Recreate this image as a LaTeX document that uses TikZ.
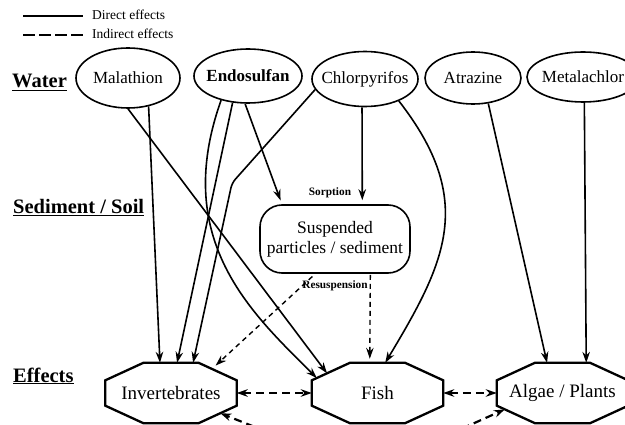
\documentclass[tikz,border=0pt]{standalone}
\usepackage{fontspec}
\setmainfont{Liberation Serif}
\usetikzlibrary{arrows.meta,calc,shapes.geometric}

\tikzset{
	>={Stealth[length=11pt,width=7.5pt]},
	agent/.style={draw, ellipse, line width=1.6pt, inner xsep=-12pt, inner ysep=0pt, font=\fontsize{17}{20}\selectfont},
	effect/.style={minimum width=131pt, minimum height=60pt, inner sep=0pt, font=\fontsize{19}{22}\selectfont},
	octline/.style={line width=2.3pt, line join=miter},
	pool/.style={draw, rounded corners=22pt, line width=1.6pt, minimum width=150pt, minimum height=68pt, inner sep=0pt, align=center, font=\fontsize{17.5}{20}\selectfont},
	layer/.style={anchor=base west, inner sep=0pt, font=\fontsize{20.5}{24}\selectfont\bfseries},
	process/.style={inner sep=0pt, font=\fontsize{11.3}{13}\selectfont\bfseries},
	legendtxt/.style={anchor=base west, inner sep=0pt, font=\fontsize{13.5}{16}\selectfont},
	direct/.style={line width=1.6pt, ->},
	indirect/.style={line width=1.4pt, dash pattern=on 5pt off 4pt, ->},
	feedback/.style={line width=2.2pt, dash pattern=on 8pt off 5pt},
}

\begin{document}
\begin{tikzpicture}[x=1pt,y=1pt,yscale=-1]
	\useasboundingbox (0,0) rectangle (625,425);
	\clip (0,0) rectangle (625,425);
	
	% legend
	\draw[line width=2pt] (23,16) -- (83,16);
	\draw[line width=2pt, dash pattern=on 12pt off 4pt] (23,35) -- (83,35);
	\node[legendtxt] (ldir) at (92,20) {Direct effects};
	\node[legendtxt] (lind) at (92,39) {Indirect effects};
	
	% compartments
	\node[layer] (water) at (12,88) {\underline{Water}};
	\node[layer] (sed) at (13,214) {\underline{Sediment / Soil}};
	\node[layer] (eff) at (13,382) {\underline{Effects}};
	
	% pesticides
	\node[agent, minimum width=104pt, minimum height=60pt] (mal) at (128,78) {Malathion};
	\node[agent, minimum width=108pt, minimum height=54pt, font=\fontsize{17}{20}\selectfont\bfseries] (endo) at (248,76) {Endosulfan};
	\node[agent, minimum width=106pt, minimum height=55pt] (chl) at (365,79) {Chlorpyrifos};
	\node[agent, minimum width=96pt, minimum height=52pt] (atr) at (473,78) {Atrazine};
	\node[agent, minimum width=112pt, minimum height=50pt] (met) at (583,77) {Metalachlor};
	
	\node[pool] (susp) at (335,239) {Suspended\\particles / sediment};
	\node[process] (sorp) at (330,193) {Sorption};
	\node[process] (resus) at (335,286) {Resuspension};
	
	% receptors
	\node[effect] (inv) at (171,393) {Invertebrates};
	\node[effect] (fish) at (377.5,393) {Fish};
	\node[effect] (alg) at (562.5,393) {Algae / Plants};
	\foreach \e in {inv,fish,alg}{
		\coordinate (\e-1) at ($(\e.north west)!0.29!(\e.north east)$);
		\coordinate (\e-2) at ($(\e.north east)!0.29!(\e.north west)$);
		\coordinate (\e-3) at ($(\e.north east)!0.29!(\e.south east)$);
		\coordinate (\e-4) at ($(\e.south east)!0.29!(\e.north east)$);
		\coordinate (\e-5) at ($(\e.south east)!0.29!(\e.south west)$);
		\coordinate (\e-6) at ($(\e.south west)!0.29!(\e.south east)$);
		\coordinate (\e-7) at ($(\e.south west)!0.29!(\e.north west)$);
		\coordinate (\e-8) at ($(\e.north west)!0.29!(\e.south west)$);
		\draw[octline] (\e-1) -- (\e-2) -- (\e-3) -- (\e-4) -- (\e-5) -- (\e-6) -- (\e-7) -- (\e-8) -- cycle;
	}
	
	\coordinate (kink) at (232,183);
	\coordinate (belowinv) at (290,441);
	\coordinate (belowalg) at (450,434);
	
	% direct effects
	\draw[direct] (mal.306) -- ($(inv-1)!0.3!(inv-2)$);
	\draw[direct] (mal.south) -- ($(fish-1)!0.6!(fish-8)$);
	\draw[direct] (endo.222) .. controls +(-50,140) and +(-65,-65) .. ($(fish-1)!0.87!(fish-8)$);
	\draw[direct] (endo.240) -- ($(inv-1)!0.61!(inv-2)$);
	\draw[direct, shorten >=4pt] (endo.264) -- ($(susp.north west)!0.15!(susp.north east)$);
	\draw[direct, rounded corners=5pt] (chl.192) -- (kink) -- ($(inv-1)!0.9!(inv-2)$);
	\draw[direct, shorten >=4pt] (chl.264) -- ($(susp.north west)!0.68!(susp.north east)$);
	\draw[direct] (chl.327) .. controls +(78,100) and +(60,-100) .. ($(fish-1)!0.64!(fish-2)$);
	\draw[direct] (atr.301) -- ($(alg-1)!0.22!(alg-2)$);
	\draw[direct] (met.273) -- ($(alg-1)!0.93!(alg-2)$);
	
	% indirect effects
	\draw[indirect, shorten <=4pt, shorten >=5pt] ($(susp.south west)!0.37!(susp.south east)$) -- ($(inv-2)!0.35!(inv-3)$);
	\draw[indirect, shorten <=1pt, shorten >=4pt] ($(susp.south west)!0.733!(susp.south east)$) -- ($(fish-1)!0.36!(fish-2)$);
	\draw[feedback, <->] (inv.east) -- (fish.west);
	\draw[feedback, <->] (fish.east) -- (alg.west);
	\draw[feedback, ->] (belowinv) -- ($(inv-4)!0.43!(inv-5)$);
	\draw[feedback, ->] (belowalg) -- ($(alg-7)!0.21!(alg-6)$);
	
\end{tikzpicture}
\end{document}
